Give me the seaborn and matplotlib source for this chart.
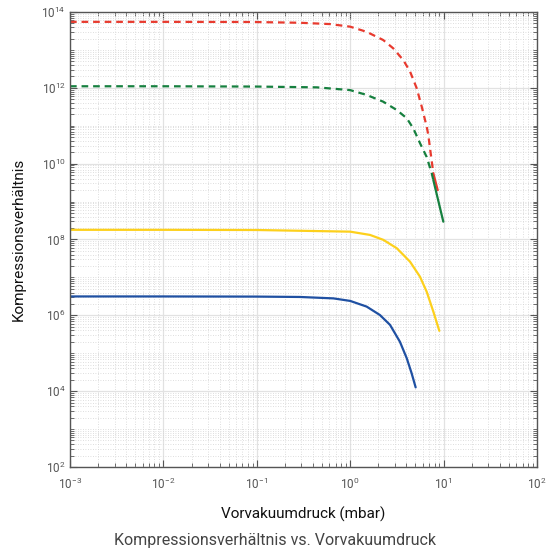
import numpy as np
import pandas as pd
import matplotlib
matplotlib.use("Agg")
import matplotlib.pyplot as plt
import matplotlib.ticker as mticker
import seaborn as sns

# ---- data ----
red_x_dash = [1e-3, 1e-2, 0.092, 0.29, 0.61, 1.0, 1.5, 2.26, 2.89, 3.70, 4.37, 5.15, 5.83, 6.59, 6.85, 7.76]
red_y_dash = [5.5e13, 5.5e13, 5.45e13, 5.2e13, 4.8e13, 4.1e13, 3.0e13, 1.82e13, 1.1e13, 5.4e12, 2.7e12,
              9.8e11, 3.2e11, 9.5e10, 5.8e10, 5.6e9]
red_x_solid = [7.76, 8.65]
red_y_solid = [5.6e9, 2.0e9]

green_x_dash = [1e-3, 1e-2, 0.1, 0.44, 1.0, 1.5, 2.26, 3.15, 4.03, 4.74, 5.58, 6.59, 7.46, 7.76]
green_y_dash = [1.1e12, 1.1e12, 1.08e12, 1.03e12, 8.7e11, 6.5e11, 4.3e11, 2.6e11, 1.58e11, 8.5e10,
                3.5e10, 1.5e10, 5.6e9, 3.7e9]
green_x_solid = [7.76, 9.93]
green_y_solid = [3.7e9, 2.95e8]

yellow_x = [1e-3, 1e-2, 0.1, 0.29, 1.0, 1.63, 2.26, 3.15, 4.37, 5.58, 6.59, 7.76, 9.0]
yellow_y = [1.8e8, 1.8e8, 1.78e8, 1.7e8, 1.61e8, 1.32e8, 9.8e7, 5.9e7, 2.6e7, 1.05e7, 4.2e6, 1.26e6, 3.9e5]

blue_x = [1e-3, 1e-2, 0.1, 0.29, 0.66, 1.0, 1.5, 2.08, 2.67, 3.41, 4.03, 4.55, 5.02]
blue_y = [3.15e6, 3.15e6, 3.12e6, 3.05e6, 2.8e6, 2.4e6, 1.7e6, 1.02e6, 5.6e5, 2.0e5, 7.4e4, 2.95e4, 1.26e4]

x_label = "Vorvakuumdruck (mbar)"
y_label = "Kompressionsverhältnis"
caption = "Kompressionsverhältnis vs. Vorvakuumdruck"

RED = "#e83a2e"
GREEN = "#16803f"
YELLOW = "#fdd01c"
BLUE = "#1f50a2"

sns.set_theme(style="white")
plt.rcParams["font.family"] = ["Roboto", "DejaVu Sans"]
plt.rcParams["mathtext.default"] = "regular"

fig = plt.figure(figsize=(5.49, 5.52), dpi=100)
ax = fig.add_axes([70 / 549, 1 - 467 / 552, 467 / 549, 455 / 552])

lw = 1.6
def draw(xs, ys, color, dashed):
    sns.lineplot(x=xs, y=ys, ax=ax, color=color, linewidth=lw,
                 estimator=None, sort=False,
                 linestyle=(0, (3, 2.2)) if dashed else "-")

draw(red_x_dash, red_y_dash, RED, True)
draw(red_x_solid, red_y_solid, RED, False)
draw(green_x_dash, green_y_dash, GREEN, True)
draw(green_x_solid, green_y_solid, GREEN, False)
draw(yellow_x, yellow_y, YELLOW, False)
draw(blue_x, blue_y, BLUE, False)

ax.set_xscale("log")
ax.set_yscale("log")
ax.set_xlim(1e-3, 1e2)
ax.set_ylim(1e2, 1e14)

ax.xaxis.set_major_locator(mticker.LogLocator(base=10, numticks=20))
ax.xaxis.set_minor_locator(mticker.LogLocator(base=10, subs=np.arange(2, 10), numticks=100))
ax.yaxis.set_major_locator(mticker.FixedLocator([10.0 ** k for k in range(2, 15, 2)]))
ax.yaxis.set_minor_locator(mticker.LogLocator(base=10, subs=np.arange(1, 10), numticks=100))
ax.yaxis.set_major_formatter(mticker.LogFormatterSciNotation())
ax.xaxis.set_major_formatter(mticker.LogFormatterSciNotation())
ax.yaxis.set_minor_formatter(mticker.NullFormatter())
ax.xaxis.set_minor_formatter(mticker.NullFormatter())

ax.grid(which="major", color="#e2e2e2", linewidth=0.9, linestyle="-")
ax.grid(which="minor", color="#d4d4d4", linewidth=0.6, linestyle=(0, (1, 2)))
ax.set_axisbelow(True)

for s in ax.spines.values():
    s.set_color("#555555")
    s.set_linewidth(1.0)
    s.set_visible(True)

ax.tick_params(which="both", direction="in", top=True, right=True,
               bottom=True, left=True, color="#555555")
ax.tick_params(which="major", length=5, width=0.8, labelsize=8.5,
               labelcolor="#555555")
ax.tick_params(which="minor", length=2.8, width=0.6)
ax.tick_params(axis="x", which="major", pad=7)
ax.tick_params(axis="y", which="major", pad=3)

ax.set_xlabel(x_label, fontsize=11, color="#111111")
ax.set_ylabel(y_label, fontsize=11, color="#111111")
ax.xaxis.set_label_coords(0.5, -0.088)
ax.yaxis.set_label_coords(-0.095, 0.5)

fig.text(0.5, 1 - 540 / 552, caption, ha="center", va="center",
         fontsize=11.5, color="#444444", fontweight="normal")

fig.savefig("out.png", dpi=100)
